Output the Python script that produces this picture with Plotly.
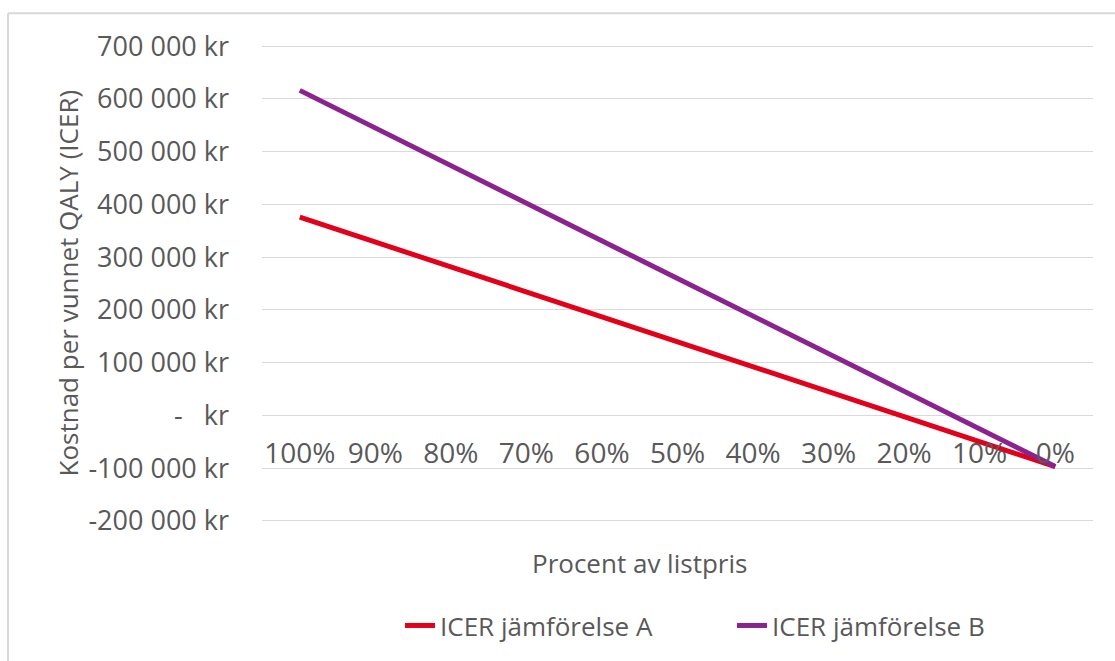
import plotly.graph_objects as go

categories = ["100%", "90%", "80%", "70%", "60%", "50%", "40%", "30%", "20%", "10%", "0%"]
icer_a = [376000, 328700, 281400, 234100, 186800, 139500, 92200, 44900, -2400, -49700, -97000]
icer_b = [616000, 544700, 473400, 402100, 330800, 259500, 188200, 116900, 45600, -25700, -97000]
series_names = ["ICER jämförelse A", "ICER jämförelse B"]
y_tick_vals = [-200000, -100000, 0, 100000, 200000, 300000, 400000, 500000, 600000, 700000]
y_tick_text = ["-200 000 kr", "-100 000 kr", "-\u00a0\u00a0\u00a0kr", "100 000 kr", "200 000 kr",
               "300 000 kr", "400 000 kr", "500 000 kr", "600 000 kr", "700 000 kr"]
x_title = "Procent av listpris"
y_title = "Kostnad per vunnet QALY (ICER)"

FONT = "Open Sans"
TXT = "#595959"
GRID = "#d9d9d9"

x_idx = list(range(len(categories)))

fig = go.Figure()
fig.add_trace(go.Scatter(x=x_idx, y=icer_a, mode="lines", name=series_names[0],
                         line=dict(color="#E2001A", width=5)))
fig.add_trace(go.Scatter(x=x_idx, y=icer_b, mode="lines", name=series_names[1],
                         line=dict(color="#8B238E", width=5)))

y_min, y_max = -202000, 702000
zero_pos = (0 - y_min) / (y_max - y_min)

# plot area pixel geometry
L, T, B = 262, 45, 524
W, H = 1115 - L - 22, B - T


def px(x):
    return (x - L) / W


def py(y):
    return (B - y) / H


fig.update_layout(
    width=1115, height=661,
    margin=dict(l=L, r=22, t=T, b=661 - B),
    paper_bgcolor="white", plot_bgcolor="white",
    font=dict(family=FONT, size=26, color=TXT),
    xaxis=dict(
        tickmode="array", tickvals=x_idx, ticktext=categories,
        range=[-0.5, len(categories) - 0.5],
        anchor="free", position=zero_pos,
        showgrid=False, showline=False, zeroline=False, ticks="",
        tickfont=dict(family=FONT, size=28, color=TXT),
        ticklabelstandoff=19,
    ),
    yaxis=dict(
        range=[y_min, y_max],
        tickmode="array", tickvals=y_tick_vals, ticktext=y_tick_text,
        showgrid=True, gridcolor=GRID, gridwidth=1,
        zeroline=True, zerolinecolor=GRID, zerolinewidth=1,
        showline=False, ticks="",
        tickfont=dict(family=FONT, size=27, color=TXT),
        ticklabelstandoff=32,
    ),
    showlegend=True,
    legend=dict(orientation="h", x=px(400), xanchor="left", y=py(628), yanchor="middle",
                font=dict(family=FONT, size=26, color=TXT), bgcolor="rgba(0,0,0,0)",
                entrywidth=287, entrywidthmode="pixels"),
    annotations=[
        dict(text=x_title, xref="paper", yref="paper", x=px(639), y=py(565),
             xanchor="center", yanchor="middle", showarrow=False,
             font=dict(family=FONT, size=26, color=TXT)),
        dict(text=y_title, xref="paper", yref="paper", x=px(67), y=0.5,
             xanchor="center", yanchor="middle", textangle=-90, showarrow=False,
             font=dict(family=FONT, size=26, color=TXT)),
    ],
    shapes=[
        dict(type="line", xref="paper", yref="paper",
             x0=px(8), x1=px(1130), y0=py(13), y1=py(13),
             line=dict(color="#d9d9d9", width=2)),
        dict(type="line", xref="paper", yref="paper",
             x0=px(8), x1=px(8), y0=py(13), y1=py(680),
             line=dict(color="#d9d9d9", width=2)),
    ],
)

fig.write_html("out.html")
